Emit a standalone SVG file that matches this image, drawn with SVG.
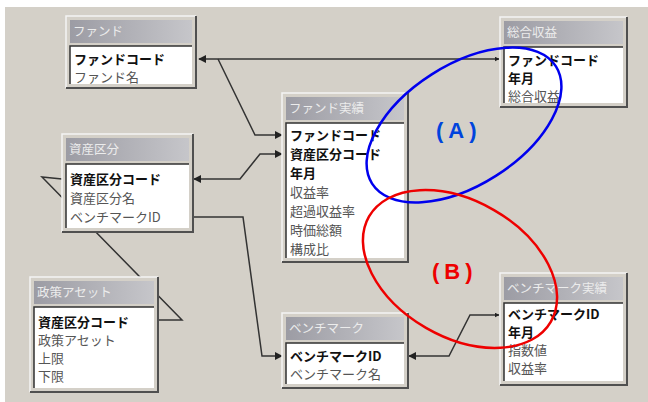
<svg xmlns="http://www.w3.org/2000/svg" width="648" height="402" viewBox="0 0 648 402">
<defs>
<linearGradient id="tg" x1="0" y1="0" x2="1" y2="0">
<stop offset="0" stop-color="#9c9ca4"/>
<stop offset="1" stop-color="#c6c6ca"/>
</linearGradient>
<marker id="ah" viewBox="0 0 10 10" refX="9" refY="5" markerWidth="8" markerHeight="8" markerUnits="userSpaceOnUse" orient="auto-start-reverse">
<path d="M0,0 L10,5 L0,10 z" fill="#222"/>
</marker>
<marker id="as" viewBox="0 0 10 10" refX="9" refY="5" markerWidth="5" markerHeight="5" markerUnits="userSpaceOnUse" orient="auto-start-reverse">
<path d="M0,0 L10,5 L0,10 z" fill="#222"/>
</marker>
<style>
.frame{fill:#d4d0c8}
.hl{fill:none;stroke:#f4f4f4;stroke-width:1.5}
.sh{fill:none;stroke:#505050;stroke-width:2}
.ttl{fill:url(#tg)}
.list{fill:#fff}
.inset{fill:none;stroke:#303030;stroke-width:1.5}
text{font-family:"Noto Sans CJK JP","Noto Sans",sans-serif;font-size:13px}
.tt{fill:#ececec;font-size:12.5px}
.k{font-weight:bold;fill:#111}
.f{fill:#555}
.c{fill:none;stroke:#333;stroke-width:1.5}
.lab{font-family:"Liberation Sans",sans-serif;font-weight:bold;font-size:22px;letter-spacing:5px}
</style>
</defs>
<rect x="5" y="7" width="643" height="395" fill="#d4d0c8"/>

<g id="connectors">
<path class="c" d="M62,179 L42,177 L182,320 L159,320"/>
<path class="c" d="M199,59 L499,59" marker-start="url(#ah)" marker-end="url(#as)"/>
<path class="c" d="M218,59 L255,135 L282,135" marker-end="url(#ah)"/>
<path class="c" d="M194,179 L240,179 L260,154 L282,154" marker-start="url(#ah)" marker-end="url(#ah)"/>
<path class="c" d="M194,217 L243,217 L262,356 L282,356" marker-end="url(#ah)"/>
<path class="c" d="M499,315 L470,315 L449,356 L409,356" marker-start="url(#as)" marker-end="url(#ah)"/>
</g>

<g id="fund">
<rect class="frame" x="66" y="16" width="130" height="72"/>
<path class="hl" d="M66,88 V16 H196"/>
<path class="sh" d="M196,16 V88 H66"/>
<rect class="ttl" x="70" y="20" width="122" height="23"/>
<text class="tt" x="73" y="36">ファンド</text>
<rect class="list" x="70" y="46" width="122" height="38"/>
<path class="inset" d="M70,84 V46 H192"/>
<text class="k" x="74" y="64">ファンドコード</text>
<text class="f" x="74" y="82">ファンド名</text>
</g>

<g id="sogo">
<rect class="frame" x="500" y="17" width="127" height="90"/>
<path class="hl" d="M500,107 V17 H627"/>
<path class="sh" d="M627,17 V107 H500"/>
<rect class="ttl" x="504" y="21" width="119" height="23"/>
<text class="tt" x="507" y="37">総合収益</text>
<rect class="list" x="504" y="47" width="119" height="56"/>
<path class="inset" d="M504,103 V47 H623"/>
<text class="k" x="508" y="65">ファンドコード</text>
<text class="k" x="508" y="83">年月</text>
<text class="f" x="508" y="101">総合収益</text>
</g>

<g id="fundjisseki">
<rect class="frame" x="282" y="93" width="126" height="169"/>
<path class="hl" d="M282,262 V93 H408"/>
<path class="sh" d="M408,93 V262 H282"/>
<rect class="ttl" x="286" y="97" width="118" height="23"/>
<text class="tt" x="289" y="113">ファンド実績</text>
<rect class="list" x="286" y="123" width="118" height="135"/>
<path class="inset" d="M286,258 V123 H404"/>
<text class="k" x="290" y="140">ファンドコード</text>
<text class="k" x="290" y="159">資産区分コード</text>
<text class="k" x="290" y="178">年月</text>
<text class="f" x="290" y="197">収益率</text>
<text class="f" x="290" y="216">超過収益率</text>
<text class="f" x="290" y="235">時価総額</text>
<text class="f" x="290" y="254">構成比</text>
</g>

<g id="shisan">
<rect class="frame" x="62" y="134" width="131" height="98"/>
<path class="hl" d="M62,232 V134 H193"/>
<path class="sh" d="M193,134 V232 H62"/>
<rect class="ttl" x="66" y="138" width="123" height="23"/>
<text class="tt" x="69" y="154">資産区分</text>
<rect class="list" x="66" y="164" width="123" height="64"/>
<path class="inset" d="M66,228 V164 H189"/>
<text class="k" x="70" y="184">資産区分コード</text>
<text class="f" x="70" y="203">資産区分名</text>
<text class="f" x="70" y="222">ベンチマークID</text>
</g>

<g id="seisaku">
<rect class="frame" x="30" y="277" width="128" height="115"/>
<path class="hl" d="M30,392 V277 H158"/>
<path class="sh" d="M158,277 V392 H30"/>
<rect class="ttl" x="34" y="281" width="120" height="23"/>
<text class="tt" x="37" y="297">政策アセット</text>
<rect class="list" x="34" y="307" width="120" height="81"/>
<path class="inset" d="M34,388 V307 H154"/>
<text class="k" x="38" y="327">資産区分コード</text>
<text class="f" x="38" y="345">政策アセット</text>
<text class="f" x="38" y="363">上限</text>
<text class="f" x="38" y="381">下限</text>
</g>

<g id="bench">
<rect class="frame" x="282" y="313" width="126" height="75"/>
<path class="hl" d="M282,388 V313 H408"/>
<path class="sh" d="M408,313 V388 H282"/>
<rect class="ttl" x="286" y="317" width="118" height="23"/>
<text class="tt" x="289" y="333">ベンチマーク</text>
<rect class="list" x="286" y="343" width="118" height="41"/>
<path class="inset" d="M286,384 V343 H404"/>
<text class="k" x="290" y="361">ベンチマークID</text>
<text class="f" x="290" y="379">ベンチマーク名</text>
</g>

<g id="benchjisseki">
<rect class="frame" x="500" y="273" width="127" height="112"/>
<path class="hl" d="M500,385 V273 H627"/>
<path class="sh" d="M627,273 V385 H500"/>
<rect class="ttl" x="504" y="277" width="119" height="23"/>
<text class="tt" x="507" y="293">ベンチマーク実績</text>
<rect class="list" x="504" y="303" width="119" height="78"/>
<path class="inset" d="M504,381 V303 H623"/>
<text class="k" x="508" y="319">ベンチマークID</text>
<text class="k" x="508" y="337">年月</text>
<text class="f" x="508" y="355">指数値</text>
<text class="f" x="508" y="373">収益率</text>
</g>

<g id="markA">
<ellipse cx="464" cy="125" rx="109" ry="60" transform="rotate(-32.5 464 125)" fill="none" stroke="#0000ee" stroke-width="2.5"/>
<text class="lab" x="436" y="138" fill="#0044dd">(A)</text>
</g>
<g id="markB">
<ellipse cx="460" cy="269" rx="105" ry="68" transform="rotate(30 460 269)" fill="none" stroke="#ee0000" stroke-width="2.5"/>
<text class="lab" x="432" y="279" fill="#ee0000">(B)</text>
</g>
</svg>
